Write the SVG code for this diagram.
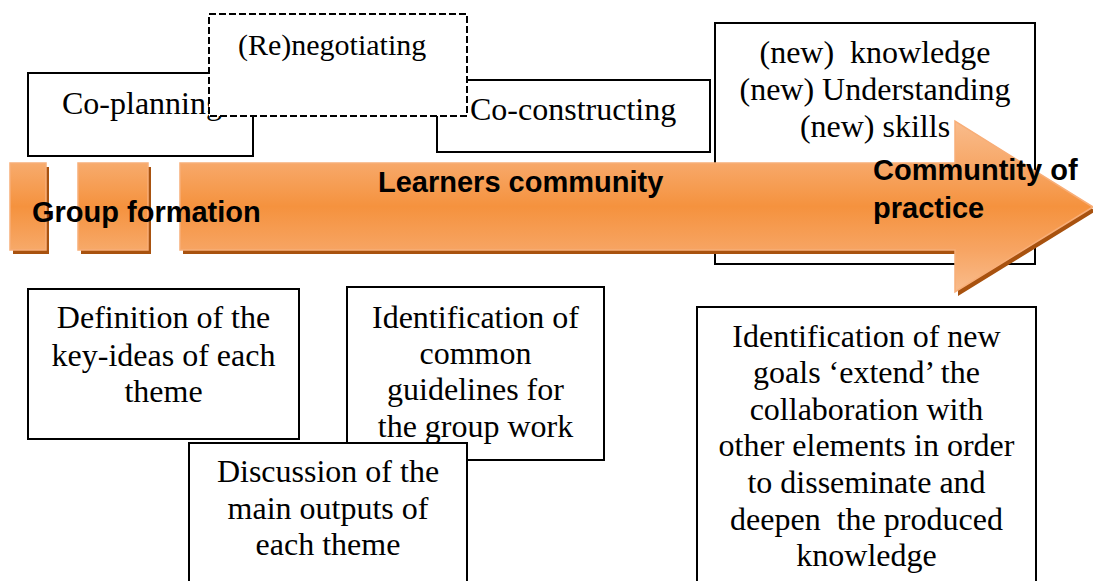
<svg xmlns="http://www.w3.org/2000/svg" width="1093" height="581" viewBox="0 0 1093 581">
  <style>
    .box { fill: #ffffff; stroke: #000000; stroke-width: 2; }
    .dash { fill: #ffffff; stroke: #000000; stroke-width: 2; stroke-dasharray: 7 3; }
    .t { font-family: "Liberation Serif", "Times New Roman", serif; font-size: 32px; fill: #000000; }
    .tc { text-anchor: middle; }
    .b { font-family: "Liberation Sans", Arial, sans-serif; font-size: 29px; font-weight: bold; fill: #000000; }
    .shadow { fill: #a8520f; }
    .orange { stroke: #f8ae78; stroke-width: 1.5; }
  </style>
  <defs>
    <linearGradient id="gPiece" x1="0" y1="0" x2="0" y2="1">
      <stop offset="0" stop-color="#f7ab6d"/>
      <stop offset="0.5" stop-color="#f5923e"/>
      <stop offset="1" stop-color="#f7a969"/>
    </linearGradient>
    <linearGradient id="gArrow" gradientUnits="userSpaceOnUse" x1="0" y1="121" x2="0" y2="292">
      <stop offset="0" stop-color="#f9bc8c"/>
      <stop offset="0.25" stop-color="#f7a869"/>
      <stop offset="0.5" stop-color="#f5923e"/>
      <stop offset="0.75" stop-color="#f7a462"/>
      <stop offset="1" stop-color="#f9bc8c"/>
    </linearGradient>
  </defs>

  <g id="node-knowledge">
    <rect class="box" x="715" y="23" width="320" height="241"/>
    <text class="t tc" x="875" y="63" xml:space="preserve">(new)  knowledge</text>
    <text class="t tc" x="875" y="100">(new) Understanding</text>
    <text class="t tc" x="875" y="137">(new) skills</text>
  </g>

  <g id="node-coplanning">
    <rect class="box" x="28" y="73" width="225" height="83"/>
    <text class="t" x="62" y="114">Co-planning</text>
  </g>

  <g id="node-coconstructing">
    <rect class="box" x="437" y="80" width="273" height="72"/>
    <text class="t" x="470" y="120">Co-constructing</text>
  </g>

  <g id="node-renegotiating">
    <rect class="dash" x="209" y="14" width="258" height="102"/>
    <text class="t" x="238" y="55" style="font-size:30px">(Re)negotiating</text>
  </g>

  <g id="node-arrow">
    <rect class="shadow" x="13" y="167" width="36" height="87"/>
    <rect class="shadow" x="81" y="167" width="70" height="87"/>
    <path class="shadow" d="M183,167 L958,167 L958,125 L1096,211 L958,296 L958,254 L183,254 Z"/>
    <rect class="orange" x="10" y="163" width="36" height="87" fill="url(#gPiece)"/>
    <rect class="orange" x="78" y="163" width="70" height="87" fill="url(#gPiece)"/>
    <path class="orange" d="M180,163 L955,163 L955,121 L1093,207 L955,292 L955,250 L180,250 Z" fill="url(#gArrow)"/>
    <text class="b" x="32" y="222">Group formation</text>
    <text class="b" x="378" y="192">Learners community</text>
    <text class="b" x="873" y="180">Communtity of</text>
    <text class="b" x="873" y="218">practice</text>
  </g>

  <g id="node-definition">
    <rect class="box" x="28" y="289" width="271" height="150"/>
    <text class="t tc" x="163.5" y="328">Definition of the</text>
    <text class="t tc" x="163.5" y="366">key-ideas of each</text>
    <text class="t tc" x="163.5" y="402">theme</text>
  </g>

  <g id="node-guidelines">
    <rect class="box" x="347" y="287" width="257" height="173"/>
    <text class="t tc" x="475.5" y="328">Identification of</text>
    <text class="t tc" x="475.5" y="364">common</text>
    <text class="t tc" x="475.5" y="400">guidelines for</text>
    <text class="t tc" x="475.5" y="437">the group work</text>
  </g>

  <g id="node-discussion">
    <rect class="box" x="189" y="443" width="278" height="150"/>
    <text class="t tc" x="328" y="482">Discussion of the</text>
    <text class="t tc" x="328" y="519">main outputs of</text>
    <text class="t tc" x="328" y="555">each theme</text>
  </g>

  <g id="node-newgoals">
    <rect class="box" x="697" y="307" width="339" height="290"/>
    <text class="t tc" x="866.5" y="347">Identification of new</text>
    <text class="t tc" x="866.5" y="383">goals ‘extend’ the</text>
    <text class="t tc" x="866.5" y="420">collaboration with</text>
    <text class="t tc" x="866.5" y="456">other elements in order</text>
    <text class="t tc" x="866.5" y="493">to disseminate and</text>
    <text class="t tc" x="866.5" y="530" xml:space="preserve">deepen  the produced</text>
    <text class="t tc" x="866.5" y="566">knowledge</text>
  </g>

  <g id="connectors"></g>
</svg>
